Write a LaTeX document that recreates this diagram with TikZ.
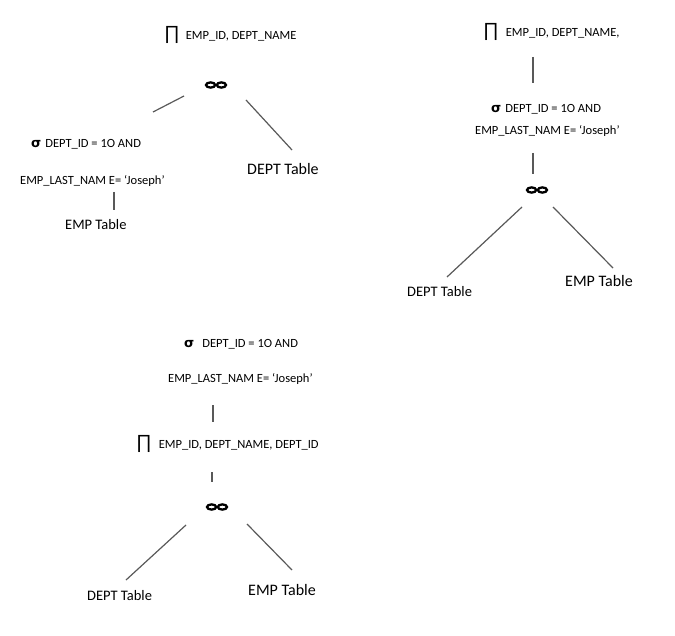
\documentclass[tikz,border=0pt]{standalone}
\usepackage{fontspec}
\setmainfont{Carlito}
\newfontfamily\symfont{DejaVu Sans}
\newfontfamily\pifont{Liberation Sans}
\usetikzlibrary{calc}

\newcommand{\projsym}{{\pifont\fontsize{19}{19}\selectfont ∏}}
\newcommand{\selsym}{{\symfont\bfseries\fontsize{13}{13}\selectfont σ}}

\tikzset{
  lbl/.style={inner sep=0pt, anchor=base west, font=\fontsize{12.5}{14}\selectfont},
  tbl/.style={inner sep=0pt, anchor=base west, font=\fontsize{16}{18}\selectfont},
  tblsm/.style={tbl, font=\fontsize{14.5}{17}\selectfont},
  edge/.style={draw=black!65, line width=1.2pt},
  joinop/.style={minimum width=24pt, minimum height=10pt, inner sep=0pt,
    path picture={
      \draw[line width=2.3pt] ([xshift=-5.4pt]path picture bounding box.center) ellipse (4.6pt and 2.6pt);
      \draw[line width=2.3pt] ([xshift=5.4pt]path picture bounding box.center) ellipse (4.6pt and 2.6pt);
    }}
}

\begin{document}
\begin{tikzpicture}[x=1pt, y=-1pt]
  \useasboundingbox (0,0) rectangle (675,636);

  % 树 1：先选择 EMP，再连接 DEPT
  \node[lbl] (proj1) at (164,40) {\projsym\hspace{6pt}EMP\_ID, DEPT\_NAME};
  \node[joinop] (join1) at (216,85) {};
  \node[lbl] (sel1a) at (31,148) {\selsym\hspace{4pt}DEPT\_ID = 1O AND};
  \node[lbl] (sel1b) at (20,185) {EMP\_LAST\_NAM E= ‘Joseph’};
  \node[tbl] (dept1) at (247,175) {DEPT Table};
  \node[tblsm] (emp1) at (65,230) {EMP Table};
  \draw[edge] ($(join1)+(-32,11)$) -- ($(sel1a.base west)+(122,-36)$);
  \draw[edge] ($(join1)+(30,15)$) -- ($(dept1.base west)+(45,-25)$);
  \draw[edge] ($(sel1b.base west)+(94,7)$) -- ($(emp1.base west)+(49,-20)$);

  % 树 2：先连接，再选择，最后投影
  \node[lbl] (proj2) at (483,37) {\projsym\hspace{7pt}EMP\_ID, DEPT\_NAME,};
  \node[lbl] (sel2a) at (491,113) {\selsym\hspace{4pt}DEPT\_ID = 1O AND};
  \node[lbl] (sel2b) at (475,135) {EMP\_LAST\_NAM E= ‘Joseph’};
  \node[joinop] (join2) at (537,190) {};
  \node[tblsm] (dept2) at (407,297) {DEPT Table};
  \node[tbl] (emp2) at (565,287) {EMP Table};
  \draw[edge] ($(proj2.base west)+(50,20)$) -- ($(sel2a.base west)+(42,-30)$);
  \draw[edge] ($(sel2b.base west)+(58,18)$) -- ($(join2)+(-4,-16)$);
  \draw[edge] ($(join2)+(-15,17)$) -- ($(dept2.base west)+(40,-20)$);
  \draw[edge] ($(join2)+(16,17)$) -- ($(emp2.base west)+(48,-19)$);

  % 树 3：选择在上，投影在中，连接在下
  \node[lbl] (sel3a) at (184,348) {\selsym\hspace{8pt}DEPT\_ID = 1O AND};
  \node[lbl] (sel3b) at (168,382) {EMP\_LAST\_NAM E= ‘Joseph’};
  \node[lbl] (proj3) at (136,448) {\projsym\hspace{7pt}EMP\_ID, DEPT\_NAME, DEPT\_ID};
  \node[joinop] (join3) at (217,507) {};
  \node[tblsm] (dept3) at (87,600) {DEPT Table};
  \node[tbl] (emp3) at (248,595) {EMP Table};
  \draw[edge] ($(sel3b.base west)+(45,23)$) -- ($(proj3.base west)+(77,-26)$);
  \draw[edge] ($(proj3.base west)+(76,24)$) -- ($(join3)+(-5,-25)$);
  \draw[edge] ($(join3)+(-31,18)$) -- ($(dept3.base west)+(39,-20)$);
  \draw[edge] ($(join3)+(30,17)$) -- ($(emp3.base west)+(44,-25)$);
\end{tikzpicture}
\end{document}
